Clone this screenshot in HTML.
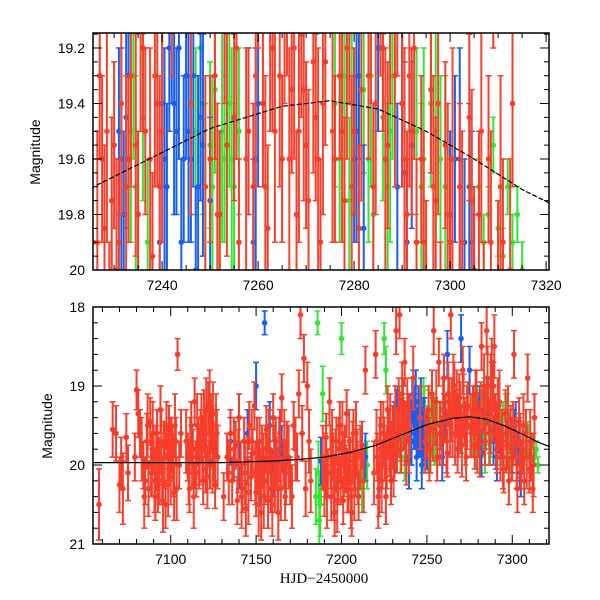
<!DOCTYPE html>
<html><head><meta charset="utf-8">
<style>
html,body{margin:0;padding:0;background:#fff;}
svg{display:block;font-family:"Liberation Sans",sans-serif;}
</style></head>
<body>
<svg id="chart" width="600" height="600" viewBox="0 0 600 600" xmlns="http://www.w3.org/2000/svg">
<defs>
<clipPath id="clipTop"><rect x="93" y="33" width="456" height="237"/></clipPath>
<clipPath id="clipBot"><rect x="93" y="307" width="456" height="237"/></clipPath>
</defs>
<g id="topMarks" clip-path="url(#clipTop)"></g>
<g id="botMarks" clip-path="url(#clipBot)"></g>
<g id="axes"></g>
<text x="0" y="0" transform="translate(40,152) rotate(-90)" text-anchor="middle" font-size="14">Magnitude</text>
<text x="0" y="0" transform="translate(52,426) rotate(-90)" text-anchor="middle" font-size="14">Magnitude</text>
<text x="324" y="583" text-anchor="middle" font-size="15" font-family="Liberation Serif, serif">HJD−2450000</text>
</svg>
<script>
// data: [HJD-2450000, magnitude, error]
const redPts = [
[7058,20.5,.45],[7066,19.55,.35],[7068,19.6,.35],[7070,20.25,.35],[7071,19.95,.3],[7072,20.3,.45],[7074,19.65,.3],[7075,20.1,.35],
[7079,19.9,.3],[7080,19.05,.25],[7081,19.35,.3],[7082,19.6,.3],[7084,20.0,.3],[7086,19.7,.35],[7087,20.3,.35],[7088,19.45,.3],
[7089,20.1,.3],[7090,19.8,.3],[7091,20.4,.3],[7092,19.6,.3],[7093,19.95,.3],[7094,19.3,.3],[7095,20.2,.3],[7096,19.75,.3],
[7097,20.5,.3],[7098,19.9,.3],[7099,19.55,.3],[7100,20.15,.35],[7101,19.8,.3],[7102,20.35,.35],[7103,19.7,.3],[7104,18.6,.2],
[7105,20.0,.3],[7106,19.6,.3],[7085,20.2,.3],[7092.5,20.3,.3],[7097.5,19.5,.3],[7100.5,19.7,.3],
[7110,19.9,.3],[7111,20.3,.3],[7112,19.5,.3],[7113,19.8,.25],[7114,19.2,.3],[7115,20.1,.3],[7116,19.7,.3],[7117,19.95,.3],
[7118,19.4,.3],[7119,20.2,.3],[7120,19.6,.3],[7121,19.85,.3],[7122,19.25,.3],[7123,20.0,.3],[7124,19.55,.3],[7125,19.75,.3],
[7126,20.25,.3],[7127,19.6,.3],[7111.5,19.7,.3],[7114.5,20.0,.3],[7117.5,19.6,.3],[7120.5,20.05,.3],[7123.5,19.4,.3],[7125.5,19.9,.3],
[7131,20.4,.3],[7133,19.9,.3],[7135,19.6,.3],[7136,20.2,.3],[7138,19.75,.3],[7139,20.45,.3],[7140,19.4,.3],[7141,20.0,.3],
[7142,20.3,.3],[7143,19.7,.3],[7144,20.55,.35],[7145,19.95,.3],[7146,19.5,.3],[7147,20.15,.3],[7148,19.85,.3],[7149,19.25,.3],
[7150,20.35,.3],[7151,20.0,.3],[7152,19.7,.3],[7153,20.6,.35],[7154,19.9,.3],[7155,20.2,.3],[7156,19.55,.3],[7157,20.45,.35],
[7158,19.8,.3],[7159,20.1,.3],[7160,19.4,.3],[7161,20.3,.3],[7162,19.95,.3],[7163,20.6,.35],[7164,19.6,.3],[7165,19.15,.3],
[7166,20.0,.3],[7167,20.4,.3],[7168,19.75,.3],[7170,20.2,.3],[7172,19.5,.3],[7174,19.9,.3],[7175,19.1,.3],[7176,18.1,.3],
[7177,19.6,.35],[7178,18.65,.3],[7179,20.3,.35],[7180,19.0,.3],[7155.5,19.8,.3],[7158.5,20.3,.3],[7161.5,19.7,.3],[7152.5,20.1,.3],
[7190,20.3,.35],[7191,19.65,.3],[7192,20.1,.3],[7193,19.2,.3],[7194,20.4,.3],[7195,19.9,.3],[7196,20.6,.3],[7197,19.7,.3],
[7198,20.2,.3],[7199,19.5,.3],[7200,20.0,.3],[7201,20.45,.3],[7202,19.8,.3],[7203,19.35,.3],[7204,20.3,.3],[7205,19.95,.3],
[7206,20.6,.3],[7207,19.6,.3],[7208,20.1,.3],[7209,19.85,.3],[7210,20.4,.3],[7212,19.75,.3],[7214,18.8,.3],[7199.5,20.2,.3],[7202.5,20.05,.3],
[7220,18.6,.3],[7221,19.9,.3],[7222,20.3,.35],[7223,19.5,.3],[7224,20.0,.3],[7225,19.7,.3],[7226,20.4,.35],[7227,19.3,.3],
[7228,19.85,.3],[7229,20.2,.3],[7230,19.55,.3],[7231,19.9,.3],[7232,18.3,.3],[7233,19.6,.3],[7234,18.1,.3],[7235,19.8,.3],
[7236,19.2,.3],[7237,18.7,.3],[7238,19.95,.3],[7239,19.4,.3],[7225.5,19.9,.3],[7227.5,19.6,.3],[7229.5,19.75,.3],[7236.5,19.5,.3],
[7250,19.6,.3],[7251,19.3,.3],[7252,19.8,.3],[7253,19.1,.3],[7254,18.3,.3],[7255,19.45,.3],[7256,19.9,.3],[7257,18.7,.3],
[7258,19.5,.3],[7259,19.7,.3],[7260,18.9,.3],[7261,19.4,.3],[7262,19.85,.3],[7263,19.2,.3],[7264,18.1,.3],[7265,19.6,.3],
[7266,19.0,.3],[7267,19.35,.3],[7268,19.8,.3],[7269,19.15,.3],[7270,19.55,.3],[7271,18.8,.3],[7272,19.45,.3],[7273,19.9,.3],
[7274,19.25,.3],[7276,19.6,.3],[7277,19.3,.3],[7278,19.75,.3],[7279,19.1,.3],[7280,19.5,.3],[7281,19.85,.3],[7282,18.5,.3],
[7283,19.3,.3],[7284,19.7,.3],[7285,18.3,.3],[7286,19.2,.3],[7287,19.55,.3],[7288,18.7,.3],[7289,19.0,.3],[7290,19.4,.3],
[7291,19.8,.3],[7292,19.5,.3],[7293,19.9,.3],[7294,19.6,.3],[7295,20.05,.3],[7296,19.35,.3],[7297,19.75,.3],[7298,20.2,.3],
[7299,19.55,.3],[7300,19.9,.3],[7301,18.6,.3],[7302,19.7,.3],[7303,20.3,.3],[7304,19.45,.3],[7305,20.0,.3],[7306,19.8,.3],
[7307,20.2,.3],[7308,19.6,.3],[7309,18.9,.3],[7310,20.05,.3],[7311,19.9,.3],[7312,20.3,.3],[7313,19.4,.3]
];
const redPts2 = [
[7083,19.8,.4],[7084.5,20.4,.4],[7086.5,19.5,.4],[7088.5,20.0,.4],[7089.5,19.6,.4],[7090.5,20.2,.4],[7091.5,19.9,.4],[7093.5,20.1,.4],
[7094.5,19.7,.4],[7095.5,20.45,.4],[7096.5,19.9,.4],[7098.5,20.25,.4],[7099.5,19.8,.4],[7101.5,20.0,.4],[7102.5,19.5,.4],[7103.5,20.3,.4],
[7109,19.7,.4],[7110.5,20.1,.4],[7112.5,19.9,.4],[7113.5,20.4,.4],[7115.5,19.5,.4],[7116.5,19.9,.4],[7118.5,19.8,.4],[7119.5,19.45,.4],
[7121.5,20.15,.4],[7122.5,19.6,.4],[7124.5,19.95,.4],[7126.5,19.5,.4],[7127.5,19.9,.4],[7120.8,19.3,.4],[7122.8,19.2,.4],[7124.8,19.35,.4],
[7134,20.1,.4],[7137,19.8,.4],[7139.5,19.95,.4],[7141.5,20.4,.4],[7143.5,20.1,.4],[7145.5,20.35,.4],[7147.5,19.7,.4],[7149.5,20.1,.4],
[7150.5,19.8,.4],[7151.5,20.5,.4],[7153.5,19.9,.4],[7154.5,20.4,.4],[7156.5,20.0,.4],[7157.5,19.7,.4],[7159.5,20.5,.4],[7160.5,19.9,.4],
[7162.5,20.2,.4],[7163.5,19.8,.4],[7164.5,20.3,.4],[7166.5,19.7,.4],[7167.5,20.1,.4],[7169,19.9,.4],[7171,20.4,.4],[7173,19.8,.4],
[7181,19.7,.4],[7182,20.2,.4],[7189,19.9,.4],[7190.5,20.0,.4],[7191.5,20.4,.4],[7193.5,19.9,.4],[7194.5,19.7,.4],[7195.5,20.3,.4],
[7196.5,19.95,.4],[7197.5,20.45,.4],[7198.5,19.8,.4],[7200.5,19.6,.4],[7201.5,20.0,.4],[7203.5,20.2,.4],[7204.5,19.7,.4],[7205.5,20.4,.4],
[7206.5,19.85,.4],[7207.5,20.3,.4],[7208.5,19.6,.4],[7209.5,20.1,.4],[7211,19.9,.4],[7213,20.2,.4],[7219,20.1,.4],[7220.5,19.7,.4],
[7221.5,20.4,.4],[7222.5,19.8,.4],[7223.5,20.2,.4],[7224.5,19.6,.4],[7226.5,19.9,.4],[7228.5,19.5,.4],[7230.5,20.0,.4],[7231.5,19.4,.4],
[7232.5,19.7,.4],[7233.5,19.3,.4],[7234.5,19.55,.4],[7235.5,19.1,.4],[7237.5,19.6,.4],[7238.5,19.3,.4],[7239.5,19.7,.4],[7240,19.5,.4],
[7249,19.7,.4],[7251.5,19.8,.4],[7253.5,19.55,.4],[7255.5,19.2,.4],[7257.5,19.6,.4],[7259.5,19.3,.4],[7261.5,19.7,.4],[7262.5,19.1,.4],
[7263.5,19.5,.4],[7264.5,19.3,.4],[7265.5,19.0,.4],[7266.5,19.6,.4],[7267.5,19.2,.4],[7268.5,19.5,.4],[7269.5,19.35,.4],[7270.5,19.75,.4],
[7271.5,19.25,.4],[7272.5,19.6,.4],[7273.5,19.4,.4],[7277.5,19.5,.4],[7278.5,19.2,.4],[7279.5,19.7,.4],[7281.5,19.35,.4],[7283.5,19.0,.4],
[7284.5,19.4,.4],[7285.5,18.9,.4],[7286.5,19.6,.4],[7287.5,19.0,.4],[7288.5,19.3,.4],[7289.5,18.5,.4],[7290.5,19.6,.4],[7292.5,19.2,.4],
[7294.5,19.9,.4],[7296.5,19.7,.4],[7297.5,19.4,.4],[7299.5,19.8,.4],[7300.5,19.6,.4],[7302.5,19.9,.4],[7304.5,19.75,.4],[7306.5,19.5,.4],
[7308.5,19.9,.4],[7310.5,19.7,.4],[7312.5,20.0,.4],[7242,18.9,.4],[7246,19.4,.4],[7275.5,19.5,.4],[7291.5,19.3,.4]
];
const bluePts = [
[7135,19.7,.3],[7140,20.0,.3],[7145,19.6,.3],[7150,19.0,.3],[7152,20.2,.3],[7155,18.2,.15],[7158,19.5,.3],[7160,20.1,.3],
[7165,19.8,.3],[7188,19.95,.3],[7214,19.9,.3],[7231,19.5,.3],[7232,19.8,.3],[7233,19.3,.3],[7240,19.4,.3],[7241,19.7,.3],
[7242,19.1,.3],[7243,19.5,.3],[7244,19.9,.3],[7245,19.3,.3],[7246,19.6,.3],[7247,20.0,.3],[7248,19.45,.3],[7250,19.75,.3],
[7258,19.5,.3],[7259,19.9,.3],[7260,19.4,.3],[7262,18.6,.3],[7270,18.4,.3],[7275,18.8,.3],[7280,19.6,.3],[7281,19.3,.3],
[7282,19.85,.3],[7285,19.2,.3],[7289,19.7,.3],[7290,19.4,.3],[7291,19.9,.3],[7292,19.55,.3],[7300,19.8,.3],[7301,19.6,.3],
[7303,19.9,.3],[7304,19.7,.3],[7305,20.1,.3],[7241.5,19.2,.3],[7244.5,19.6,.3],
[7240.5,19.6,.4],[7242.5,19.4,.4],[7243.5,19.2,.4],[7245.5,19.5,.4],[7246.5,19.3,.4],[7247.5,19.7,.4],[7248.5,19.55,.4],[7239.5,19.9,.4],
[7231.5,19.6,.4],[7232.5,19.45,.4],[7259.5,19.6,.4],[7280.5,19.5,.4],[7290.5,19.65,.4],[7302,19.6,.4],[7304.5,19.9,.4]
];
const greenPts = [
[7185,20.4,.35],[7186,18.2,.15],[7187,20.7,.3],[7188,20.2,.3],[7189,19.1,.35],[7200,18.4,.2],[7212,20.3,.3],[7215,20.0,.3],
[7225,18.4,.2],[7226,18.8,.3],[7233,19.6,.3],[7234,19.3,.3],[7235,19.8,.3],[7236,19.45,.3],[7237,19.9,.3],[7247,19.5,.3],
[7248,19.2,.3],[7249,19.7,.3],[7250,19.55,.3],[7251,19.35,.3],[7252,19.8,.3],[7253,19.6,.3],[7254,19.4,.3],[7255,19.7,.3],
[7256,19.5,.3],[7276,19.4,.3],[7277,19.6,.3],[7278,19.3,.3],[7279,19.75,.3],[7280,19.5,.3],[7282,19.35,.3],[7283,19.6,.3],
[7284,19.8,.3],[7286,19.45,.3],[7287,19.7,.3],[7288,19.3,.3],[7293,19.5,.3],[7294,19.7,.3],[7296,19.4,.3],[7298,19.6,.3],
[7300,19.8,.3],[7306,19.7,.1],[7307,19.9,.1],[7308,19.8,.1],[7309,19.55,.1],[7310,19.85,.1],[7311,19.95,.1],[7312,19.7,.1],
[7313,19.9,.1],[7314,19.8,.1],[7315,20.0,.1],
[7186.5,20.1,.4],[7187.5,20.5,.4],[7233.5,19.5,.4],[7234.5,19.7,.4],[7248.5,19.4,.4],[7250.5,19.7,.4],[7252.5,19.5,.4],[7254.5,19.6,.4],
[7277.5,19.5,.4],[7279.5,19.4,.4],[7283.5,19.3,.4],[7287.5,19.5,.4],[7294.5,19.6,.4],[7297,19.5,.4],[7299,19.7,.4]
];
const curveT = [7055,7070,7085,7100,7115,7130,7145,7160,7175,7190,7205,7220,7235,7250,7265,7275,7285,7295,7305,7315,7322];
const curveM = [19.97,19.97,19.97,19.97,19.97,19.97,19.96,19.95,19.93,19.9,19.84,19.75,19.62,19.49,19.41,19.39,19.42,19.5,19.6,19.71,19.77];
const topYTicks = ["19.2","19.4","19.6","19.8","20"];
const topXTicks = ["7240","7260","7280","7300","7320"];
const botYTicks = ["18","19","20","21"];
const botXTicks = ["7100","7150","7200","7250","7300"];

const NS = "http://www.w3.org/2000/svg";
function mk(tag, attrs, parent){const e=document.createElementNS(NS,tag);for(const k in attrs)e.setAttribute(k,attrs[k]);parent.appendChild(e);return e;}
const L=93,R=549;
const panels = {
  top:{x0:7225.6,x1:7320.6,y0:19.146,y1:20.0,top:33,bot:270,g:document.getElementById('topMarks')},
  bot:{x0:7054.5,x1:7321.5,y0:18,y1:21,top:307,bot:544,g:document.getElementById('botMarks')}
};
function sx(p,t){return L+(t-p.x0)/(p.x1-p.x0)*(R-L);}
function sy(p,m){return p.top+(m-p.y0)/(p.y1-p.y0)*(p.bot-p.top);}

function drawSeries(p, pts, color, name){
  for(const d of pts){
    const x=sx(p,d[0]), y=sy(p,d[1]), ya=sy(p,d[1]-d[2]), yb=sy(p,d[1]+d[2]);
    const g=mk('g',{},p.g);
    
    
    mk('line',{x1:x,y1:ya,x2:x,y2:yb,stroke:color,'stroke-width':2},g);
    mk('line',{x1:x-3,y1:ya,x2:x+3,y2:ya,stroke:color,'stroke-width':1.5},g);
    mk('line',{x1:x-3,y1:yb,x2:x+3,y2:yb,stroke:color,'stroke-width':1.5},g);
    mk('circle',{cx:x,cy:y,r:2.8,fill:color},g);
  }
}
function drawCurve(p, dash){
  let d='';
  curveT.forEach((t,i)=>{d+=(i?'L':'M')+sx(p,t).toFixed(1)+','+sy(p,curveM[i]).toFixed(1);});
  const c=mk('path',{d:d,fill:'none',stroke:'#000','stroke-width':1.2},p.g);
  if(dash)c.setAttribute('stroke-dasharray','5,2');
  
  
}
for(const key of ['bot','top']){
  const p=panels[key];
  drawSeries(p,greenPts,'#33e633','green-point');
  drawSeries(p,bluePts,'#1a5ff0','blue-point');
  drawSeries(p,redPts2,'#f5452f','red-point');
  drawSeries(p,redPts,'#f63c2b','red-point');
  drawCurve(p,key==='top');
}
// axes
const ax=document.getElementById('axes');
function frame(p,name){
  const r=mk('rect',{x:L,y:p.top,width:R-L,height:p.bot-p.top,fill:'none',stroke:'#000','stroke-width':1.5},ax);
  
  
}
function ticks(p, xMajor, xMinorStep, yMajor, yMinorStep, xLabels, yLabels, prefix){
  for(let t=Math.ceil(p.x0/xMinorStep)*xMinorStep;t<=p.x1;t+=xMinorStep){
    const x=sx(p,t); const major=xLabels.includes(String(t));
    const len=major?9:5;
    mk('line',{x1:x,y1:p.bot,x2:x,y2:p.bot-len,stroke:'#000','stroke-width':1},ax);
    mk('line',{x1:x,y1:p.top,x2:x,y2:p.top+len,stroke:'#000','stroke-width':1},ax);
  }
  for(const lab of xLabels){
    const t=+lab; const x=sx(p,t);
    const tx=mk('text',{x:x,y:p.bot+20,'text-anchor':'middle','font-size':14},ax);
    tx.textContent=lab;
    
    
  }
  const n=Math.round((p.y1-p.y0)/yMinorStep)+2;
  const start=Math.ceil(p.y0/yMinorStep-1e-6)*yMinorStep;
  for(let i=0;i<n;i++){
    const m=+(start+i*yMinorStep).toFixed(3); if(m>p.y1+1e-6)break;
    const y=sy(p,m); const major=yLabels.some(l=>Math.abs(+l-m)<1e-6);
    const len=major?9:5;
    mk('line',{x1:L,y1:y,x2:L+len,y2:y,stroke:'#000','stroke-width':1},ax);
    mk('line',{x1:R,y1:y,x2:R-len,y2:y,stroke:'#000','stroke-width':1},ax);
  }
  for(const lab of yLabels){
    const y=sy(p,+lab);
    const tx=mk('text',{x:L-8,y:y+5,'text-anchor':'end','font-size':14},ax);
    tx.textContent=lab;
    
    
  }
}
frame(panels.top,'top-panel-frame');
frame(panels.bot,'bottom-panel-frame');
ticks(panels.top,20,5,0.2,0.05,topXTicks,topYTicks,'top');
ticks(panels.bot,50,10,1,0.2,botXTicks,botYTicks,'bottom');
</script>
</body></html>
